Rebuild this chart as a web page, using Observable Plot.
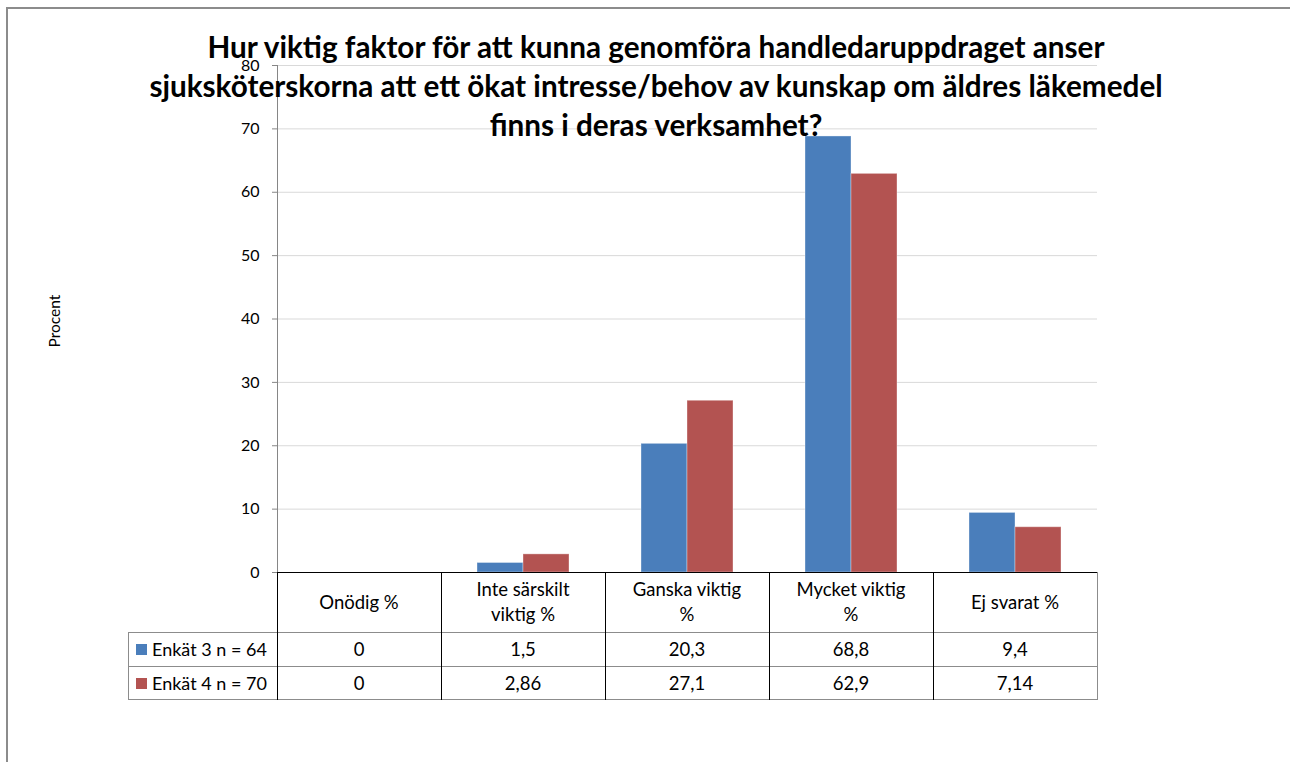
<!DOCTYPE html>
<html>
<head>
<meta charset="utf-8">
<script src="https://cdn.jsdelivr.net/npm/d3@7"></script>
<script src="https://cdn.jsdelivr.net/npm/@observablehq/plot@0.6"></script>
<style>
  html, body { margin: 0; padding: 0; background: #fff; overflow: hidden; }
  #wrap { position: relative; width: 1290px; height: 762px; overflow: hidden; font-family: Lato, "Open Sans", sans-serif; color: #000; }
  #border { position: absolute; left: 6px; top: 7px; width: 1400px; height: 900px; border: 2px solid #8c8c8c; box-sizing: border-box; }
  #chart { position: absolute; left: 0; top: 0; }
  #title { position: absolute; left: 0; width: 1312px; top: 27px; text-align: center; font-weight: 700; font-size: 29.7px; line-height: 39px; pointer-events: none; white-space: nowrap; }
  #ylabel { position: absolute; left: 54px; top: 321px; transform: translate(-50%, -50%) rotate(-90deg); font-size: 15.5px; white-space: nowrap; }
  .cell { position: absolute; display: flex; align-items: center; justify-content: center; text-align: center; font-size: 18.5px; line-height: 25px; white-space: nowrap; }
  .line { position: absolute; }
</style>
</head>
<body>
<div id="wrap">
  <div id="border"></div>
  <div id="chart"></div>
  <div id="ylabel">Procent</div>
  <div id="title">Hur viktig faktor för att kunna genomföra handledaruppdraget anser<br>sjuksköterskorna att ett ökat intresse/behov av kunskap om äldres läkemedel<br>finns i deras verksamhet?</div>
</div>
<script>
const categories = ["Onödig %", "Inte särskilt viktig %", "Ganska viktig %", "Mycket viktig %", "Ej svarat %"];
const categoryLines = [["Onödig %"], ["Inte särskilt", "viktig %"], ["Ganska viktig", "%"], ["Mycket viktig", "%"], ["Ej svarat %"]];
const series = ["Enkät 3 n = 64", "Enkät 4 n = 70"];
const enkat3 = [0, 1.5, 20.3, 68.8, 9.4];
const enkat4 = [0, 2.86, 27.1, 62.9, 7.14];
const yTicks = [0, 10, 20, 30, 40, 50, 60, 70, 80];
const colors = ["#4A7EBB", "#B35351"];

const seriesValues = [enkat3, enkat4];
const data = categories.flatMap((c, i) => series.map((s, j) => ({cat: c, series: s, value: seriesValues[j][i]})));

const chart = Plot.plot({
  width: 1290,
  height: 762,
  marginLeft: 276,
  marginRight: 193,
  marginTop: 65,
  marginBottom: 190,
  style: {fontFamily: "Lato, sans-serif", fontSize: "15px", color: "#000", background: "transparent", overflow: "visible"},
  fx: {domain: categories, padding: 0, axis: null},
  x: {domain: series, paddingInner: 0, paddingOuter: 0.745, axis: null},
  y: {domain: [0, 80], axis: null},
  color: {domain: series, range: colors},
  marks: [
    Plot.gridY(yTicks, {stroke: "#d9d9d9", strokeOpacity: 1}),
    Plot.barY(data, {fx: "cat", x: "series", y: "value", fill: "series", stroke: "#ffffff", strokeOpacity: 0.35, strokeWidth: 1}),
    Plot.axisY(yTicks, {anchor: "left", tickSize: 5, tickPadding: 13, stroke: "#868686", fontSize: 16, label: null}),
    Plot.frame({anchor: "left", facetAnchor: "left", stroke: "#868686"}),
    Plot.ruleY([0], {stroke: "#000"})
  ]
});
document.getElementById("chart").appendChild(chart);

// Data table below the plot, aligned to the library's fx and y scales
const wrap = document.getElementById("wrap");
const fx = chart.scale("fx");
const yS = chart.scale("y");
const top0 = yS.apply(0);
const rowH = [60.5, 34, 33.5];
const rowTop = [top0, top0 + rowH[0], top0 + rowH[0] + rowH[1]];
const bottom = rowTop[2] + rowH[2];
const colLeft = categories.map(c => fx.apply(c));
const bw = fx.bandwidth;
const tableRight = colLeft[colLeft.length - 1] + bw;
const legendLeft = 128;

function line(x, y, w, h, color) {
  const d = document.createElement("div");
  d.className = "line";
  Object.assign(d.style, {left: x + "px", top: y + "px", width: w + "px", height: h + "px", background: color});
  wrap.appendChild(d);
}
function cell(x, y, w, h, html, extra) {
  const d = document.createElement("div");
  d.className = "cell";
  Object.assign(d.style, {left: x + "px", top: y + "px", width: w + "px", height: h + "px"}, extra || {});
  d.innerHTML = html;
  wrap.appendChild(d);
}
const fmt = v => String(v).replace(".", ",");

// header
categories.forEach((c, i) => {
  cell(colLeft[i], rowTop[0], bw, rowH[0], categoryLines[i].join("<br>"));
  series.forEach((s, j) => cell(colLeft[i], rowTop[j + 1], bw, rowH[j + 1], fmt(seriesValues[j][i])));
});
// legend column
series.forEach((s, j) => {
  cell(legendLeft, rowTop[j + 1], colLeft[0] - legendLeft, rowH[j + 1],
    `<span style="display:inline-block;width:11px;height:11px;background:${colors[j]};margin-right:5px;"></span>${s}`,
    {justifyContent: "flex-start", paddingLeft: "8px", boxSizing: "border-box", fontSize: "18px"});
});
// horizontal lines
[rowTop[1], rowTop[2], bottom].forEach(y => line(legendLeft, Math.round(y) - 1, tableRight - legendLeft, 1, "#8c8c8c"));
// vertical lines
line(legendLeft, rowTop[1] - 1, 1, bottom - rowTop[1] + 1, "#8c8c8c");
colLeft.forEach(x => line(Math.round(x) - 0.5, top0, 1, bottom - top0, "#000"));
line(Math.round(tableRight) - 0.5, top0, 1, bottom - top0, "#8c8c8c");
</script>
</body>
</html>
